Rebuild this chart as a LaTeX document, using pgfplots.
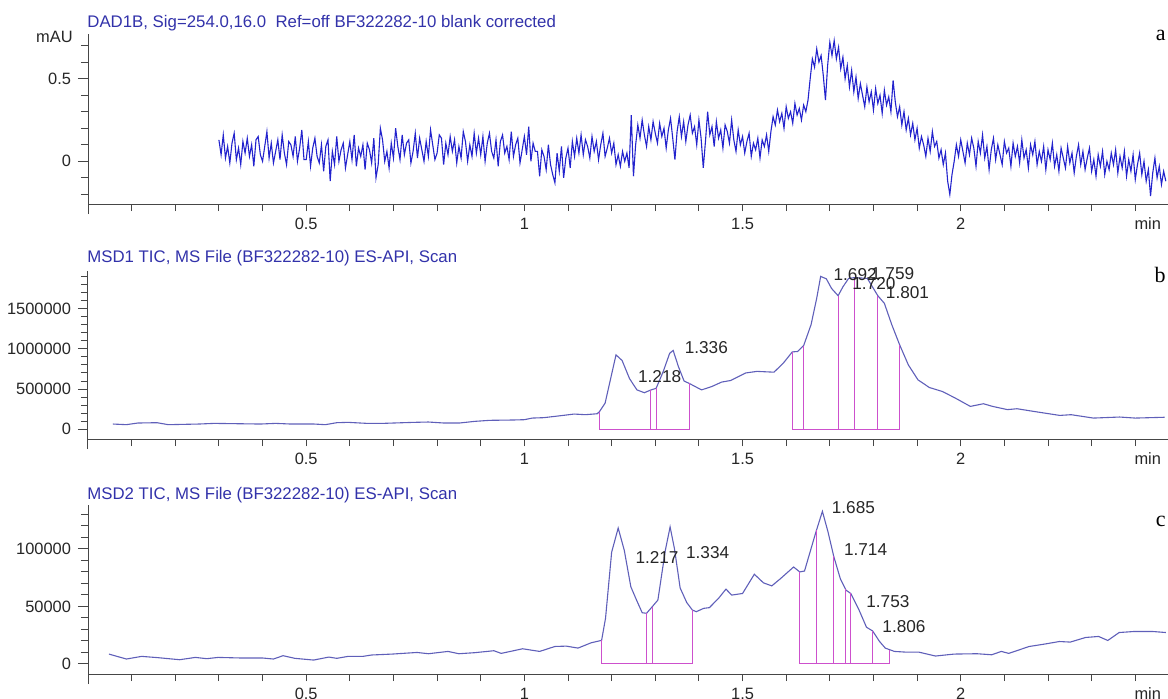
\documentclass[border=0pt]{standalone}
\usepackage{fontspec}
\setmainfont{Liberation Sans}
\newfontfamily\serifletter{Liberation Serif}
\usepackage{pgfplots}
\pgfplotsset{compat=1.18}
\definecolor{titleblue}{RGB}{50,50,170}
\definecolor{sigA}{RGB}{35,35,205}
\definecolor{sigB}{RGB}{95,95,185}
\definecolor{integ}{RGB}{205,80,205}
\definecolor{axisgray}{RGB}{70,70,70}
\tikzset{pk/.style={font=\fontsize{8.6}{10}\selectfont, text=black!85, inner sep=0pt}}
\pgfplotsset{
 chrom/.style={
  scale only axis, width=540pt,
  xmin=0, xmax=2.475,
  axis lines*=left,
  axis line style={-, draw=axisgray, line width=0.5pt},
  y axis line style={shorten <=-5pt},
  tick align=outside,
  major tick length=5pt, minor tick length=3.5pt,
  tick style={draw=axisgray, line width=0.5pt},
  xtick={0.5,1,1.5,2},
  xticklabels={0.5,1,1.5,2},
  minor xtick={0.1,0.2,0.3,0.4,0.5,0.6,0.7,0.8,0.9,1.0,1.1,1.2,1.3,1.4,1.5,1.6,1.7,1.8,1.9,2.0,2.1,2.2,2.3,2.4},
  xtick style={/pgfplots/major tick length=3.5pt},
  tick label style={font=\fontsize{8.2}{9}\selectfont, text=black!85},
  xticklabel style={text height=5.9pt, text depth=0pt, yshift=1.6pt},
  extra x ticks={2.475}, extra x tick labels={min},
  extra x tick style={tick style={draw=none}, xticklabel style={anchor=north east}},
  scaled y ticks=false,
  /pgf/number format/assume math mode=true,
  clip=false,
  anchor=south west,
 },
}
\begin{document}
\begin{tikzpicture}
\useasboundingbox (0,0) rectangle (584pt,349pt);
% ---------------- panel a ----------------
\begin{axis}[chrom, at={(44pt,247pt)}, height=85pt,
  ymin=-0.258, ymax=0.77, ytick={0,0.5}, yticklabels={0,0.5},
  minor ytick={-0.2,-0.1,0.1,0.2,0.3,0.4,0.6,0.7}]
\addplot[sigA, line width=0.55pt] coordinates {
(0.300,0.13)(0.305,0.04)(0.310,0.16)(0.315,0.02)(0.320,0.09)(0.325,-0.01)(0.330,0.11)(0.335,0.17)(0.340,0.01)(0.345,0.08)
(0.350,-0.02)(0.355,0.12)(0.360,0.05)(0.365,0.14)(0.370,0.03)(0.375,0.10)(0.380,-0.03)(0.385,0.13)(0.390,0.15)(0.395,0.04)
(0.400,0.00)(0.405,0.09)(0.410,0.18)(0.415,0.02)(0.420,0.11)(0.425,-0.01)(0.430,0.06)(0.435,0.13)(0.440,0.01)(0.445,0.16)
(0.450,0.05)(0.455,-0.02)(0.460,0.12)(0.465,0.10)(0.470,0.03)(0.475,0.15)(0.480,0.00)(0.485,0.08)(0.490,0.19)(0.495,0.01)
(0.500,0.01)(0.505,0.12)(0.510,-0.03)(0.515,0.08)(0.520,0.14)(0.525,0.03)(0.530,-0.01)(0.535,0.10)(0.540,-0.06)(0.545,0.09)
(0.550,0.13)(0.555,-0.12)(0.560,0.06)(0.565,-0.02)(0.570,0.15)(0.575,0.00)(0.580,0.07)(0.585,0.11)(0.590,-0.04)(0.595,0.04)
(0.600,0.12)(0.605,0.01)(0.610,0.16)(0.615,-0.03)(0.620,0.08)(0.625,0.03)(0.630,0.10)(0.635,-0.05)(0.640,0.11)(0.645,0.07)
(0.650,-0.01)(0.655,0.14)(0.660,-0.10)(0.665,-0.02)(0.670,0.20)(0.675,0.13)(0.680,0.00)(0.685,0.06)(0.690,-0.04)(0.695,0.11)
(0.700,0.02)(0.705,0.20)(0.710,0.09)(0.715,0.01)(0.720,0.16)(0.725,0.04)(0.730,0.11)(0.735,0.13)(0.740,-0.01)(0.745,0.06)
(0.750,0.17)(0.755,0.02)(0.760,0.14)(0.765,0.07)(0.770,0.00)(0.775,0.12)(0.780,0.03)(0.785,0.19)(0.790,0.10)(0.795,0.01)
(0.800,0.05)(0.805,0.16)(0.810,0.14)(0.815,-0.02)(0.820,0.11)(0.825,0.04)(0.830,0.15)(0.835,0.06)(0.840,0.13)(0.845,-0.01)
(0.850,0.09)(0.855,0.02)(0.860,0.18)(0.865,0.12)(0.870,0.00)(0.875,0.10)(0.880,0.03)(0.885,0.17)(0.890,0.05)(0.895,0.14)
(0.900,0.04)(0.905,0.15)(0.910,0.00)(0.915,0.11)(0.920,0.17)(0.925,0.06)(0.930,0.02)(0.935,0.13)(0.940,-0.03)(0.945,0.12)
(0.950,0.16)(0.955,0.05)(0.960,0.09)(0.965,0.01)(0.970,0.18)(0.975,0.03)(0.980,0.10)(0.985,0.14)(0.990,-0.01)(0.995,0.07)
(1.000,0.15)(1.005,0.04)(1.010,0.21)(1.015,0.00)(1.020,0.11)(1.025,0.06)(1.030,0.06)(1.035,-0.09)(1.040,0.07)(1.045,0.03)
(1.050,-0.05)(1.055,0.10)(1.060,-0.02)(1.065,-0.08)(1.070,-0.13)(1.075,0.05)(1.080,-0.06)(1.085,0.09)(1.090,-0.10)(1.095,0.02)
(1.100,0.08)(1.105,-0.04)(1.110,0.12)(1.115,0.03)(1.120,0.14)(1.125,0.05)(1.130,0.16)(1.135,0.04)(1.140,0.13)(1.145,0.09)
(1.150,0.02)(1.155,0.15)(1.160,0.06)(1.165,0.12)(1.170,0.01)(1.175,0.10)(1.180,0.17)(1.185,0.03)(1.190,0.08)(1.195,0.14)
(1.200,0.05)(1.205,0.11)(1.210,-0.02)(1.215,0.04)(1.220,-0.03)(1.225,0.06)(1.230,0.00)(1.235,0.05)(1.240,-0.04)(1.245,0.28)
(1.250,-0.09)(1.255,0.10)(1.260,0.22)(1.265,0.14)(1.270,0.25)(1.275,0.16)(1.280,0.09)(1.285,0.21)(1.290,0.13)(1.295,0.24)
(1.300,0.17)(1.305,0.11)(1.310,0.23)(1.315,0.15)(1.320,0.20)(1.325,0.08)(1.330,0.19)(1.335,0.26)(1.340,0.14)(1.345,0.01)
(1.350,0.18)(1.355,0.27)(1.360,0.15)(1.365,0.24)(1.370,0.12)(1.375,0.22)(1.380,0.28)(1.385,0.17)(1.390,0.21)(1.395,0.10)
(1.400,0.25)(1.405,0.14)(1.410,-0.04)(1.415,0.12)(1.420,0.30)(1.425,0.16)(1.430,0.21)(1.435,0.09)(1.440,0.24)(1.445,0.14)
(1.450,0.19)(1.455,0.08)(1.460,0.22)(1.465,0.18)(1.470,0.11)(1.475,0.25)(1.480,0.13)(1.485,0.06)(1.490,0.19)(1.495,0.10)
(1.500,0.15)(1.505,0.05)(1.510,0.12)(1.515,0.17)(1.520,0.03)(1.525,0.11)(1.530,0.07)(1.535,0.14)(1.540,0.02)(1.545,0.13)
(1.550,0.09)(1.555,0.16)(1.560,0.06)(1.565,0.18)(1.570,0.27)(1.575,0.22)(1.580,0.31)(1.585,0.24)(1.590,0.29)(1.595,0.20)
(1.600,0.33)(1.605,0.26)(1.610,0.30)(1.615,0.23)(1.620,0.35)(1.625,0.28)(1.630,0.32)(1.635,0.25)(1.640,0.34)(1.645,0.30)
(1.650,0.37)(1.655,0.50)(1.660,0.62)(1.665,0.57)(1.670,0.68)(1.675,0.60)(1.680,0.64)(1.685,0.52)(1.690,0.37)(1.695,0.58)
(1.700,0.72)(1.705,0.64)(1.710,0.73)(1.715,0.62)(1.720,0.69)(1.725,0.56)(1.730,0.63)(1.735,0.50)(1.740,0.58)(1.745,0.45)
(1.750,0.55)(1.755,0.42)(1.760,0.51)(1.765,0.38)(1.770,0.47)(1.775,0.40)(1.780,0.33)(1.785,0.45)(1.790,0.36)(1.795,0.42)
(1.800,0.31)(1.805,0.44)(1.810,0.35)(1.815,0.40)(1.820,0.29)(1.825,0.43)(1.830,0.34)(1.835,0.39)(1.840,0.30)(1.845,0.49)
(1.850,0.36)(1.855,0.27)(1.860,0.33)(1.865,0.22)(1.870,0.30)(1.875,0.19)(1.880,0.26)(1.885,0.16)(1.890,0.23)(1.895,0.13)
(1.900,0.20)(1.905,0.08)(1.910,0.15)(1.915,0.10)(1.920,0.03)(1.925,0.14)(1.930,0.06)(1.935,0.18)(1.940,0.09)(1.945,0.12)
(1.950,0.02)(1.955,0.07)(1.960,-0.02)(1.965,0.05)(1.970,-0.12)(1.975,-0.20)(1.980,-0.08)(1.985,0.00)(1.990,0.10)(1.995,0.03)
(2.000,0.13)(2.005,0.06)(2.010,-0.01)(2.015,0.11)(2.020,0.04)(2.025,0.14)(2.030,0.08)(2.035,-0.03)(2.040,0.12)(2.045,0.05)
(2.050,0.16)(2.055,0.02)(2.060,0.09)(2.065,-0.05)(2.070,0.07)(2.075,0.14)(2.080,0.01)(2.085,0.10)(2.090,0.04)(2.095,-0.02)
(2.100,0.12)(2.105,0.05)(2.110,0.08)(2.115,-0.03)(2.120,0.11)(2.125,0.03)(2.130,0.09)(2.135,-0.01)(2.140,0.13)(2.145,0.02)
(2.150,0.07)(2.155,-0.04)(2.160,0.10)(2.165,0.04)(2.170,0.12)(2.175,-0.02)(2.180,0.06)(2.185,0.00)(2.190,0.09)(2.195,-0.05)
(2.200,0.07)(2.205,0.01)(2.210,0.11)(2.215,-0.03)(2.220,0.04)(2.225,-0.06)(2.230,0.08)(2.235,0.02)(2.240,-0.04)(2.245,0.09)
(2.250,-0.01)(2.255,0.05)(2.260,-0.07)(2.265,0.03)(2.270,0.10)(2.275,-0.02)(2.280,0.06)(2.285,-0.05)(2.290,0.02)(2.295,0.08)
(2.300,-0.06)(2.305,0.01)(2.310,-0.09)(2.315,0.04)(2.320,-0.03)(2.325,0.06)(2.330,-0.08)(2.335,0.00)(2.340,-0.05)(2.345,0.05)
(2.350,-0.02)(2.355,0.07)(2.360,-0.07)(2.365,0.03)(2.370,-0.04)(2.375,0.06)(2.380,-0.09)(2.385,0.01)(2.390,-0.06)(2.395,0.04)
(2.400,-0.11)(2.405,-0.02)(2.410,0.05)(2.415,-0.08)(2.420,0.00)(2.425,-0.12)(2.430,-0.05)(2.435,-0.21)(2.440,-0.07)(2.445,0.02)
(2.450,-0.10)(2.455,-0.03)(2.460,-0.14)(2.465,-0.06)(2.470,-0.12)
};
\end{axis}
% ---------------- panel b ----------------
\begin{axis}[chrom, at={(44pt,129.5pt)}, height=84pt,
  ymin=-120000, ymax=1967000, ytick={0,500000,1000000,1500000},
  yticklabels={0,500000,1000000,1500000},
  minor ytick={100000,200000,300000,400000,600000,700000,800000,900000,1100000,1200000,1300000,1400000,1600000,1700000,1800000,1900000}]
\addplot[sigB, line width=0.55pt] coordinates {
(0.057,66000)(0.088,58000)(0.114,78500)(0.158,82600)(0.184,58000)(0.254,66000)(0.289,74000)(0.342,70000)(0.395,66000)(0.43,74000)
(0.465,66000)(0.518,66000)(0.544,58000)(0.57,82600)(0.596,86800)(0.64,74000)(0.675,74000)(0.746,86800)(0.78,91000)(0.816,78500)
(0.851,78500)(0.886,99000)(0.921,112000)(0.974,116000)(1.0,120000)(1.018,140000)(1.044,145000)(1.07,161000)(1.096,178000)(1.114,190000)
(1.14,182000)(1.167,194000)(1.172,220000)(1.185,325000)(1.21,925000)(1.224,855000)(1.241,630000)(1.258,490000)(1.275,455000)(1.288,485000)
(1.302,510000)(1.318,715000)(1.333,945000)(1.341,980000)(1.353,780000)(1.366,600000)(1.378,570000)(1.406,490000)(1.43,533000)(1.452,587000)
(1.473,607000)(1.507,700000)(1.533,720000)(1.572,710000)(1.593,820000)(1.614,962000)(1.626,967000)(1.640,1040000)(1.657,1300000)(1.67,1630000)
(1.679,1900000)(1.692,1870000)(1.704,1750000)(1.719,1660000)(1.73,1770000)(1.743,1875000)(1.757,1885000)(1.786,1875000)(1.81,1660000)(1.825,1565000)
(1.842,1300000)(1.86,1050000)(1.88,800000)(1.902,615000)(1.928,520000)(1.958,470000)(1.987,390000)(2.022,285000)(2.052,318000)(2.073,285000)
(2.107,245000)(2.129,256000)(2.167,223000)(2.227,173000)(2.253,182000)(2.304,140000)(2.364,153000)(2.4,140000)(2.467,150000)
};
\addplot[integ, line width=0.5pt] coordinates {(1.172,220000)(1.172,0)(1.378,0)(1.378,570000)};
\addplot[integ, line width=0.5pt] coordinates {(1.288,0)(1.288,485000)};
\addplot[integ, line width=0.5pt] coordinates {(1.302,0)(1.302,510000)};
\addplot[integ, line width=0.5pt] coordinates {(1.614,962000)(1.614,0)(1.860,0)(1.860,1050000)};
\addplot[integ, line width=0.5pt] coordinates {(1.640,0)(1.640,1040000)};
\addplot[integ, line width=0.5pt] coordinates {(1.719,0)(1.719,1660000)};
\addplot[integ, line width=0.5pt] coordinates {(1.757,0)(1.757,1885000)};
\addplot[integ, line width=0.5pt] coordinates {(1.810,0)(1.810,1660000)};
\node[pk] at (axis cs:1.310,650000) {1.218};
\node[pk] at (axis cs:1.417,1010000) {1.336};
\node[pk] at (axis cs:1.758,1926000) {1.692};
\node[pk] at (axis cs:1.844,1940000) {1.759};
\node[pk] at (axis cs:1.801,1806000) {1.720};
\node[pk] at (axis cs:1.878,1700000) {1.801};
\end{axis}
% ---------------- panel c ----------------
\begin{axis}[chrom, at={(44pt,12pt)}, height=84.5pt,
  ymin=-8700, ymax=138000, ytick={0,50000,100000},
  yticklabels={0,50000,100000},
  minor ytick={10000,20000,30000,40000,60000,70000,80000,90000,110000,120000,130000}]
\addplot[sigB, line width=0.55pt] coordinates {
(0.048,8600)(0.088,4300)(0.123,6600)(0.16,5500)(0.21,3700)(0.246,5700)(0.272,4600)(0.298,5700)(0.35,5200)(0.4,5200)
(0.425,4300)(0.447,7200)(0.474,4900)(0.517,3400)(0.552,6000)(0.57,4900)(0.596,6600)(0.63,6600)(0.65,7800)(0.697,8600)
(0.754,10000)(0.78,8900)(0.825,10900)(0.85,8900)(0.886,9800)(0.93,11500)(0.947,9200)(0.996,13200)(1.035,10900)(1.07,15200)
(1.096,15500)(1.123,13800)(1.153,18400)(1.177,20500)(1.186,39700)(1.2,97000)(1.215,118000)(1.229,98600)(1.244,67000)(1.257,55500)
(1.27,44500)(1.28,44000)(1.293,49700)(1.306,55500)(1.323,98600)(1.334,119000)(1.344,100000)(1.357,66000)(1.372,53400)(1.385,46800)
(1.394,45400)(1.411,48300)(1.424,48900)(1.445,57000)(1.462,65000)(1.475,59800)(1.5,61200)(1.527,77900)(1.548,70400)(1.567,67800)
(1.587,74100)(1.617,84200)(1.631,79900)(1.642,80700)(1.668,114400)(1.683,132500)(1.696,114400)(1.709,93400)(1.724,74100)(1.737,64100)
(1.748,61200)(1.767,46800)(1.784,31900)(1.798,28700)(1.814,19500)(1.827,13800)(1.848,10900)(1.874,10300)(1.904,10300)(1.942,6900)
(1.985,8600)(2.037,8900)(2.071,8000)(2.093,10900)(2.11,9200)(2.157,15200)(2.191,17200)(2.226,19500)(2.251,19000)(2.286,23000)
(2.316,23900)(2.337,20400)(2.363,27300)(2.397,28200)(2.44,28200)(2.47,27300)
};
\addplot[integ, line width=0.5pt] coordinates {(1.177,20500)(1.177,0)(1.385,0)(1.385,46800)};
\addplot[integ, line width=0.5pt] coordinates {(1.280,0)(1.280,44000)};
\addplot[integ, line width=0.5pt] coordinates {(1.293,0)(1.293,49700)};
\addplot[integ, line width=0.5pt] coordinates {(1.630,80000)(1.630,0)(1.837,0)(1.837,12500)};
\addplot[integ, line width=0.5pt] coordinates {(1.670,0)(1.670,116000)};
\addplot[integ, line width=0.5pt] coordinates {(1.709,0)(1.709,93400)};
\addplot[integ, line width=0.5pt] coordinates {(1.735,0)(1.735,65500)};
\addplot[integ, line width=0.5pt] coordinates {(1.747,0)(1.747,61500)};
\addplot[integ, line width=0.5pt] coordinates {(1.798,0)(1.798,28700)};
\node[pk] at (axis cs:1.754,135800) {1.685};
\node[pk] at (axis cs:1.304,92500) {1.217};
\node[pk] at (axis cs:1.420,97100) {1.334};
\node[pk] at (axis cs:1.782,99100) {1.714};
\node[pk] at (axis cs:1.833,54300) {1.753};
\node[pk] at (axis cs:1.870,32100) {1.806};
\end{axis}
% ---------------- titles and letters ----------------
\node[anchor=west, inner sep=0pt, text=titleblue, font=\fontsize{8.4}{10}\selectfont] at (43.5pt,337.5pt) {DAD1B, Sig=254.0,16.0\ \ Ref=off BF322282-10 blank corrected};
\node[anchor=west, inner sep=0pt, text=titleblue, font=\fontsize{8.4}{10}\selectfont] at (43.5pt,219.8pt) {MSD1 TIC, MS File (BF322282-10) ES-API, Scan};
\node[anchor=west, inner sep=0pt, text=titleblue, font=\fontsize{8.4}{10}\selectfont] at (43.5pt,101.5pt) {MSD2 TIC, MS File (BF322282-10) ES-API, Scan};
\node[anchor=east, inner sep=0pt, text=black!85, font=\fontsize{8.2}{9}\selectfont] at (36.5pt,330.5pt) {mAU};
\node[anchor=east, inner sep=0pt, font=\serifletter\fontsize{11}{12}\selectfont] at (583pt,331.5pt) {a};
\node[anchor=east, inner sep=0pt, font=\serifletter\fontsize{11}{12}\selectfont] at (583pt,211.5pt) {b};
\node[anchor=east, inner sep=0pt, font=\serifletter\fontsize{11}{12}\selectfont] at (583pt,88.5pt) {c};
\end{tikzpicture}
\end{document}
